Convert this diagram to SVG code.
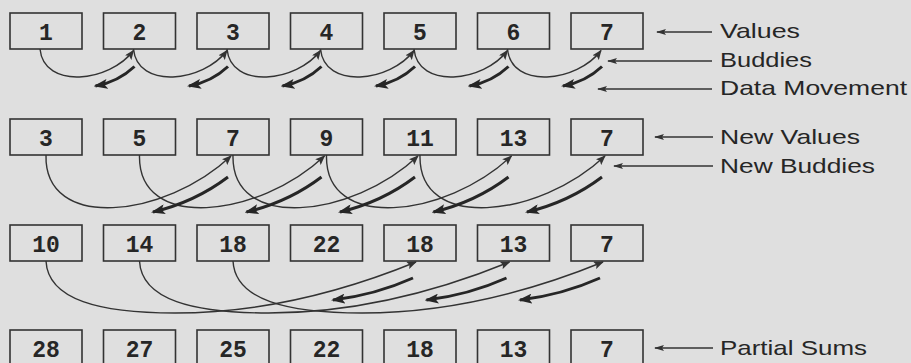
<svg xmlns="http://www.w3.org/2000/svg" width="911" height="363" viewBox="0 0 911 363">
<defs>
<style>
.box rect{fill:none;stroke:#333;stroke-width:1.6}
.box text{font-family:"Liberation Mono",monospace;font-weight:bold;font-size:23px;fill:#262626;text-anchor:middle}
.bud{fill:none;stroke:#333;stroke-width:1.4;marker-end:url(#hd)}
.mov{fill:none;stroke:#262626;stroke-width:3;marker-end:url(#bh)}
.lbl{stroke:#333;stroke-width:1.4;marker-end:url(#lh)}
.lt{font-family:"Liberation Sans",Arial,sans-serif;font-size:21px;fill:#262626}
</style>
<marker id="hd" viewBox="0 0 10 8" refX="9" refY="4" markerWidth="10" markerHeight="8" markerUnits="userSpaceOnUse" orient="auto"><path d="M0,0 L10,4 L0,8 L2,4 z" fill="#333"/></marker>
<marker id="bh" viewBox="0 0 14 10" refX="12" refY="5" markerWidth="14" markerHeight="10" markerUnits="userSpaceOnUse" orient="auto"><path d="M0,0 L14,5 L0,10 L3,5 z" fill="#262626"/></marker>
<marker id="lh" viewBox="0 0 10 6" refX="9" refY="3" markerWidth="10" markerHeight="6" markerUnits="userSpaceOnUse" orient="auto"><path d="M0,0 L10,3 L0,6 L2,3 z" fill="#333"/></marker>
</defs>
<rect width="911" height="363" fill="#dfdfdf"/>

<g id="row1">
<g id="r1b1" class="box"><rect x="10" y="13" width="72" height="36"/><text x="46" y="40">1</text></g>
<g id="r1b2" class="box"><rect x="103.5" y="13" width="72" height="36"/><text x="139.5" y="40">2</text></g>
<g id="r1b3" class="box"><rect x="197" y="13" width="72" height="36"/><text x="233" y="40">3</text></g>
<g id="r1b4" class="box"><rect x="290.5" y="13" width="72" height="36"/><text x="326.5" y="40">4</text></g>
<g id="r1b5" class="box"><rect x="384" y="13" width="72" height="36"/><text x="420" y="40">5</text></g>
<g id="r1b6" class="box"><rect x="477.5" y="13" width="72" height="36"/><text x="513.5" y="40">6</text></g>
<g id="r1b7" class="box"><rect x="571" y="13" width="72" height="36"/><text x="607" y="40">7</text></g>
</g>
<g id="row2">
<g id="r2b1" class="box"><rect x="10" y="119" width="72" height="36"/><text x="46" y="146">3</text></g>
<g id="r2b2" class="box"><rect x="103.5" y="119" width="72" height="36"/><text x="139.5" y="146">5</text></g>
<g id="r2b3" class="box"><rect x="197" y="119" width="72" height="36"/><text x="233" y="146">7</text></g>
<g id="r2b4" class="box"><rect x="290.5" y="119" width="72" height="36"/><text x="326.5" y="146">9</text></g>
<g id="r2b5" class="box"><rect x="384" y="119" width="72" height="36"/><text x="420" y="146">11</text></g>
<g id="r2b6" class="box"><rect x="477.5" y="119" width="72" height="36"/><text x="513.5" y="146">13</text></g>
<g id="r2b7" class="box"><rect x="571" y="119" width="72" height="36"/><text x="607" y="146">7</text></g>
</g>
<g id="row3">
<g id="r3b1" class="box"><rect x="10" y="225" width="72" height="36"/><text x="46" y="252">10</text></g>
<g id="r3b2" class="box"><rect x="103.5" y="225" width="72" height="36"/><text x="139.5" y="252">14</text></g>
<g id="r3b3" class="box"><rect x="197" y="225" width="72" height="36"/><text x="233" y="252">18</text></g>
<g id="r3b4" class="box"><rect x="290.5" y="225" width="72" height="36"/><text x="326.5" y="252">22</text></g>
<g id="r3b5" class="box"><rect x="384" y="225" width="72" height="36"/><text x="420" y="252">18</text></g>
<g id="r3b6" class="box"><rect x="477.5" y="225" width="72" height="36"/><text x="513.5" y="252">13</text></g>
<g id="r3b7" class="box"><rect x="571" y="225" width="72" height="36"/><text x="607" y="252">7</text></g>
</g>
<g id="row4">
<g id="r4b1" class="box"><rect x="10" y="330" width="72" height="38"/><text x="46" y="357">28</text></g>
<g id="r4b2" class="box"><rect x="103.5" y="330" width="72" height="38"/><text x="139.5" y="357">27</text></g>
<g id="r4b3" class="box"><rect x="197" y="330" width="72" height="38"/><text x="233" y="357">25</text></g>
<g id="r4b4" class="box"><rect x="290.5" y="330" width="72" height="38"/><text x="326.5" y="357">22</text></g>
<g id="r4b5" class="box"><rect x="384" y="330" width="72" height="38"/><text x="420" y="357">18</text></g>
<g id="r4b6" class="box"><rect x="477.5" y="330" width="72" height="38"/><text x="513.5" y="357">13</text></g>
<g id="r4b7" class="box"><rect x="571" y="330" width="72" height="38"/><text x="607" y="357">7</text></g>
</g>

<g id="connectors">
<path class="bud" d="M40,49 c4,41 70,33 93.5,1.5"/>
<path class="bud" d="M133.5,49 c4,41 70,33 93.5,1.5"/>
<path class="bud" d="M227,49 c4,41 70,33 93.5,1.5"/>
<path class="bud" d="M320.5,49 c4,41 70,33 93.5,1.5"/>
<path class="bud" d="M414,49 c4,41 70,33 93.5,1.5"/>
<path class="bud" d="M507.5,49 c4,41 70,33 93.5,1.5"/>
<path class="mov" d="M134.5,66.5 q-16.5,15.5 -39,19.5"/>
<path class="mov" d="M228,66.5 q-16.5,15.5 -39,19.5"/>
<path class="mov" d="M321.5,66.5 q-16.5,15.5 -39,19.5"/>
<path class="mov" d="M415,66.5 q-16.5,15.5 -39,19.5"/>
<path class="mov" d="M508.5,66.5 q-16.5,15.5 -39,19.5"/>
<path class="mov" d="M602,66.5 q-16.5,15.5 -39,19.5"/>

<path class="bud" d="M46,155 c-2,77 119,63 185,1"/>
<path class="bud" d="M139.5,155 c-2,77 119,63 185,1"/>
<path class="bud" d="M233,155 c-2,77 119,63 185,1"/>
<path class="bud" d="M326.5,155 c-2,77 119,63 185,1"/>
<path class="bud" d="M420,155 c-2,77 119,63 185,1"/>
<path class="mov" d="M228,177 q-33,25 -75,35"/>
<path class="mov" d="M321.5,177 q-33,25 -75,35"/>
<path class="mov" d="M415,177 q-33,25 -75,35"/>
<path class="mov" d="M508.5,177 q-33,25 -75,35"/>
<path class="mov" d="M602,177 q-33,25 -75,35"/>

<path class="bud" d="M46,261 c2,39 54,52 129,52 c85,0 165,-20 241,-51"/>
<path class="bud" d="M139.5,261 c2,39 54,52 129,52 c85,0 165,-20 241,-51"/>
<path class="bud" d="M233,261 c2,39 54,52 129,52 c85,0 165,-20 241,-51"/>
<path class="mov" d="M413,278 q-38,17 -80,22"/>
<path class="mov" d="M506.5,278 q-38,17 -80,22"/>
<path class="mov" d="M600,278 q-38,17 -80,22"/>

<line class="lbl" x1="712" y1="32" x2="657" y2="32"/>
<line class="lbl" x1="712" y1="61" x2="608" y2="61"/>
<line class="lbl" x1="712" y1="89" x2="598" y2="89"/>
<line class="lbl" x1="713" y1="137" x2="655" y2="137"/>
<line class="lbl" x1="713" y1="166" x2="614" y2="166"/>
<line class="lbl" x1="713" y1="348" x2="655" y2="348"/>
</g>

<g id="labels">
<text class="lt" x="720" y="38" textLength="80" lengthAdjust="spacingAndGlyphs">Values</text>
<text class="lt" x="720" y="67" textLength="92" lengthAdjust="spacingAndGlyphs">Buddies</text>
<text class="lt" x="720" y="95" textLength="187" lengthAdjust="spacingAndGlyphs">Data Movement</text>
<text class="lt" x="720" y="144" textLength="140" lengthAdjust="spacingAndGlyphs">New Values</text>
<text class="lt" x="720" y="173" textLength="155" lengthAdjust="spacingAndGlyphs">New Buddies</text>
<text class="lt" x="720" y="355" textLength="147" lengthAdjust="spacingAndGlyphs">Partial Sums</text>
</g>
</svg>
